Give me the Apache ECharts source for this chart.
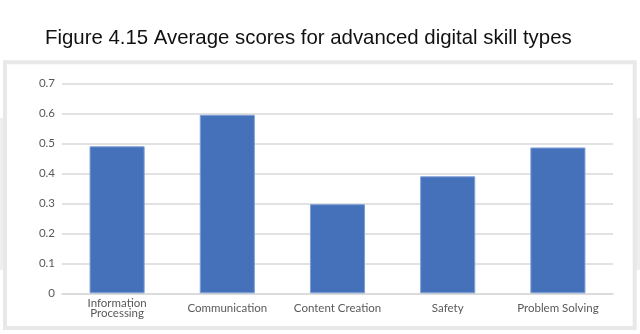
<!DOCTYPE html>
<html>
<head>
<meta charset="utf-8">
<title>Average scores for advanced digital skill types</title>
<script src="https://cdn.jsdelivr.net/npm/echarts@6/dist/echarts.min.js"></script>
<style>
  html, body { margin: 0; padding: 0; background: #ffffff; }
  #chart { width: 640px; height: 334px; }
</style>
</head>
<body>
<div id="chart"></div>
<script>
// Skill categories and their average scores
const categories = ['Information\nProcessing', 'Communication', 'Content Creation', 'Safety', 'Problem Solving'];
const scores = [0.49, 0.595, 0.297, 0.39, 0.486];
const yTicks = { min: 0, max: 0.7, interval: 0.1 };
const titleText = 'Figure 4.15 Average scores for advanced digital skill types';

const chart = echarts.init(document.getElementById('chart'), null, { renderer: 'canvas' });

const labelFont = 'Lato, "Open Sans", sans-serif';

chart.setOption({
  animation: false,
  backgroundColor: '#ffffff',
  title: {
    text: titleText,
    left: 45,
    top: 28,
    padding: 0,
    textStyle: {
      fontFamily: '"Liberation Sans", Arial, sans-serif',
      fontSize: 20.4,
      fontWeight: 'normal',
      color: '#111111'
    }
  },
  graphic: [
    {
      type: 'rect',
      z: -10,
      silent: true,
      shape: { x: 0, y: 118, width: 640, height: 152 },
      style: { fill: '#eeeeee' }
    },
    {
      type: 'rect',
      z: -9,
      silent: true,
      shape: { x: 5, y: 62.3, width: 629.7, height: 265.7 },
      style: { fill: '#ffffff', stroke: '#e8e8e8', lineWidth: 4 }
    }
  ],
  grid: { left: 62, right: 27, top: 83.3, bottom: 40.7, containLabel: false },
  xAxis: {
    type: 'category',
    data: categories,
    axisLine: { show: true, lineStyle: { color: '#d9d9d9', width: 1.5 } },
    axisTick: { show: false },
    axisLabel: {
      interval: 0,
      margin: 15,
      verticalAlign: 'middle',
      fontFamily: labelFont,
      fontSize: 11.5,
      lineHeight: 10.5,
      color: '#595959'
    }
  },
  yAxis: {
    type: 'value',
    min: yTicks.min,
    max: yTicks.max,
    interval: yTicks.interval,
    axisLine: { show: false },
    axisTick: { show: false },
    splitLine: { lineStyle: { color: '#d9d9d9', width: 1.5 } },
    axisLabel: {
      margin: 7,
      fontFamily: labelFont,
      fontSize: 11.5,
      color: '#595959',
      formatter: v => (v === 0 ? '0' : v.toFixed(1))
    }
  },
  series: [
    {
      type: 'bar',
      data: scores,
      barWidth: '50%',
      itemStyle: { color: '#4471b9', borderColor: '#7f9fd8', borderWidth: 1 }
    }
  ]
});
</script>
</body>
</html>
